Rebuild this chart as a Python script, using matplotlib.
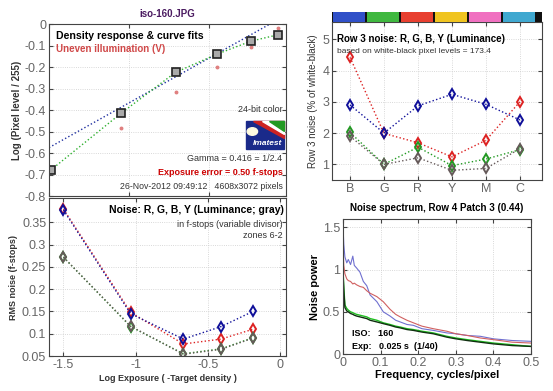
import matplotlib.pyplot as plt
from matplotlib.patches import Rectangle, Circle, Polygon
import numpy as np

plt.rcParams['font.family'] = ['Liberation Sans', 'DejaVu Sans']

# --- density response (top left) ---
dens_x = [-1.49, -1.05, -0.71, -0.45, -0.24, -0.07]
dens_y = [-0.68, -0.415, -0.225, -0.14, -0.08, -0.05]
uneven_x = [-1.05, -0.71, -0.45, -0.24, -0.07]
uneven_y = [-0.485, -0.318, -0.20, -0.105, -0.02]
fit_x = [-1.5, -0.12]
fit_y = [-0.575, 0.0]

# --- noise in f-stops (bottom left) ---
exp_x = [-1.5, -1.035, -0.67, -0.41, -0.19]
noise_r = [0.380, 0.148, 0.077, 0.088, 0.110]
noise_g = [0.272, 0.116, 0.055, 0.066, 0.091]
noise_b = [0.378, 0.145, 0.088, 0.116, 0.150]
noise_y = [0.272, 0.117, 0.054, 0.065, 0.090]

# --- row 3 noise (top right) ---
patches = ['B', 'G', 'R', 'Y', 'M', 'C']
patch_colors = ['#3050c8', '#40b840', '#e84030', '#f0c420', '#f070c0', '#40a8d0']
row3_r = [4.42, 1.99, 1.69, 1.24, 1.77, 3.0]
row3_g = [2.02, 1.0, 1.55, 0.96, 1.17, 1.47]
row3_b = [2.90, 2.0, 2.87, 3.24, 2.92, 2.42]
row3_y = [1.90, 1.0, 1.21, 0.81, 0.87, 1.5]

# --- noise spectrum (bottom right) ---
freq = [0.0, 0.002, 0.005, 0.01, 0.014, 0.02, 0.026, 0.03, 0.036, 0.045, 0.054, 0.063,
        0.072, 0.09, 0.107, 0.125, 0.14, 0.152, 0.17, 0.187, 0.21, 0.24, 0.276, 0.3,
        0.33, 0.365, 0.4, 0.45, 0.5]
spec_b = [1.53, 1.30, 1.15, 1.08, 1.12, 1.06, 1.16, 1.05, 1.02, 0.97, 0.86, 0.81,
          0.70, 0.62, 0.50, 0.45, 0.40, 0.38, 0.35, 0.34, 0.30, 0.28, 0.25, 0.24,
          0.22, 0.21, 0.18, 0.16, 0.15]
spec_r = [1.30, 1.05, 0.95, 0.89, 0.87, 0.86, 0.83, 0.84, 0.82, 0.80, 0.79, 0.75,
          0.72, 0.68, 0.62, 0.53, 0.47, 0.44, 0.40, 0.37, 0.33, 0.30, 0.27, 0.24,
          0.22, 0.19, 0.17, 0.14, 0.13]
spec_g = [1.00, 0.80, 0.58, 0.54, 0.52, 0.50, 0.49, 0.48, 0.47, 0.46, 0.45, 0.44,
          0.42, 0.40, 0.37, 0.35, 0.33, 0.32, 0.30, 0.29, 0.27, 0.25, 0.21, 0.19,
          0.17, 0.15, 0.13, 0.11, 0.09]
spec_k = [0.95, 0.75, 0.55, 0.51, 0.50, 0.48, 0.47, 0.46, 0.45, 0.44, 0.43, 0.42,
          0.40, 0.38, 0.36, 0.34, 0.32, 0.31, 0.29, 0.28, 0.26, 0.24, 0.20, 0.18,
          0.16, 0.14, 0.12, 0.10, 0.09]

RED = '#dd2222'
GRN = '#229922'
BLU = '#10109a'
GRY = '#665a5a'
TICK = '#666666'

fig = plt.figure(figsize=(5.53, 3.91), dpi=100)


def style(ax):
    ax.tick_params(direction='in', labelsize=9, colors='#444444', labelcolor=TICK,
                   length=3, top=True, right=True, pad=2)
    for s in ax.spines.values():
        s.set_color('#444444')
        s.set_linewidth(0.8)
    ax.grid(True, ls=':', color='#cccccc', lw=0.6)


# ---------------- top left ----------------
ax1 = fig.add_axes([0.0886, 0.4987, 0.4286, 0.4399])
style(ax1)
ax1.plot(fit_x, fit_y, ls=':', color='#2030a0', lw=1.0)
ax1.plot(dens_x, dens_y, ls=':', color='#30b030', lw=1.0)
ax1.plot(uneven_x, uneven_y, ls='none', marker='o', ms=1.8, color='#e08080')
ax1.plot(dens_x, dens_y, ls='none', marker='s', ms=5.5, mfc='#aaaaaa', mec='#222222', mew=1.2)
ax1.set_xlim(-1.5, -0.02)
ax1.set_ylim(-0.8, 0)
ax1.set_xticks([-1.5, -1.0, -0.5])
ax1.set_xticklabels([])
ax1.set_yticks(np.arange(-0.8, 0.01, 0.1))
ax1.set_yticklabels(['-0.8', '-0.7', '-0.6', '-0.5', '-0.4', '-0.3', '-0.2', '-0.1', '0'])
ax1.set_ylabel('Log (Pixel level / 255)', fontsize=7, fontweight='bold', color='#333333',
               labelpad=2)
ax1.set_title('iso-160.JPG', fontsize=7, fontweight='bold', color='#4a1a60', pad=5)
ax1.text(0.03, 0.93, 'Density response & curve fits', transform=ax1.transAxes,
         fontsize=7.6, fontweight='bold', va='center')
ax1.text(0.03, 0.855, 'Uneven illumination (V)', transform=ax1.transAxes,
         fontsize=7, fontweight='bold', color='#d04848', va='center')
ax1.text(0.985, 0.505, '24-bit color', transform=ax1.transAxes, fontsize=6.5, ha='right',
         va='center', color='#333333')
ax1.text(0.985, 0.22, 'Gamma = 0.416 = 1/2.4', transform=ax1.transAxes, fontsize=6.5,
         ha='right', va='center', color='#333333')
ax1.text(0.985, 0.138, 'Exposure error = 0.50 f-stops', transform=ax1.transAxes,
         fontsize=6.5, ha='right', va='center', color='#cc0000', fontweight='bold')
ax1.text(0.985, 0.057, '26-Nov-2012 09:49:12   4608x3072 pixels', transform=ax1.transAxes,
         fontsize=6.3, ha='right', va='center', color='#333333')

# imatest logo
lx0, lx1, ly0, ly1 = 0.83, 0.99, 0.275, 0.435
ax1.add_patch(Rectangle((lx0, ly0), lx1 - lx0, ly1 - ly0, transform=ax1.transAxes,
                        color='#1a2a8a', zorder=5))
ax1.add_patch(Polygon([(lx0 + 0.03, ly1), (lx1, ly1), (lx1, ly0 + 0.06)], closed=True,
                      transform=ax1.transAxes, color='#cc2222', zorder=6))
ax1.add_patch(Polygon([(lx0 + 0.07, ly1), (lx1, ly1), (lx1, ly0 + 0.085)], closed=True,
                      transform=ax1.transAxes, color='#ffffff', zorder=6))
ax1.add_patch(Polygon([(lx0 + 0.10, ly1), (lx1, ly1), (lx1, ly0 + 0.105)], closed=True,
                      transform=ax1.transAxes, color='#229922', zorder=6))
ax1.add_patch(Circle((lx0 + 0.028, ly0 + 0.1), 0.022, transform=ax1.transAxes,
                     color='#fffbe0', zorder=7))
ax1.text((lx0 + lx1) / 2 + 0.01, ly0 + 0.012, 'Imatest', transform=ax1.transAxes,
         fontsize=6, color='white', fontweight='bold', style='italic', ha='center',
         va='bottom', zorder=8)

# ---------------- bottom left ----------------
ax2 = fig.add_axes([0.0886, 0.0895, 0.4286, 0.4041])
style(ax2)
for vals, c in [(noise_r, RED), (noise_g, GRN), (noise_b, BLU), (noise_y, GRY)]:
    ax2.plot(exp_x, vals, ls=':', color=c, lw=1.0, marker='d', ms=5, mfc='none',
             mec=c, mew=1.4)
ax2.set_xlim(-1.6, 0.04)
ax2.set_ylim(0.05, 0.405)
ax2.set_xticks([-1.5, -1.0, -0.5, 0])
ax2.set_xticklabels(['-1.5', '-1', '-0.5', '0'])
ax2.set_yticks([0.05, 0.1, 0.15, 0.2, 0.25, 0.3, 0.35])
ax2.set_yticklabels(['0.05', '0.1', '0.15', '0.2', '0.25', '0.3', '0.35'])
ax2.set_xlabel('Log Exposure ( -Target density )', fontsize=6.5, fontweight='bold',
               color='#333333', labelpad=2)
ax2.set_ylabel('RMS noise (f-stops)', fontsize=6.5, fontweight='bold', color='#333333',
               labelpad=3)
ax2.text(0.99, 0.925, 'Noise: R, G, B, Y (Luminance; gray)', transform=ax2.transAxes,
         fontsize=7.5, fontweight='bold', ha='right', va='center')
ax2.text(0.985, 0.83, 'in f-stops (variable divisor)', transform=ax2.transAxes,
         fontsize=6.5, ha='right', va='center', color='#333333')
ax2.text(0.985, 0.76, 'zones 6-2', transform=ax2.transAxes, fontsize=6.5, ha='right',
         va='center', color='#333333')

# ---------------- top right ----------------
xpos = np.arange(1, len(patches) + 1)
ax3 = fig.add_axes([0.6004, 0.5396, 0.3797, 0.4041])
style(ax3)
for vals, c in [(row3_r, RED), (row3_b, BLU), (row3_g, GRN), (row3_y, GRY)]:
    ax3.plot(xpos, vals, ls=':', color=c, lw=1.0, marker='d', ms=5, mfc='none',
             mec=c, mew=1.4)
ax3.set_xlim(0.47, 6.65)
ax3.set_ylim(0.5, 5.55)
ax3.set_xticks(xpos)
ax3.set_xticklabels(patches)
ax3.set_yticks([1, 2, 3, 4, 5])
ax3.set_ylabel('Row 3 noise (% of white-black)', fontsize=7, color='#333333',
               labelpad=3)
ax3.text(0.025, 0.895, 'Row 3 noise: R, G, B, Y (Luminance)', transform=ax3.transAxes,
         fontsize=7, fontweight='bold', va='center')
ax3.text(0.025, 0.815, 'based on white-black pixel levels = 173.4', transform=ax3.transAxes,
         fontsize=6, va='center', color='#333333')

# colour strip above
axc = fig.add_axes([0.6004, 0.9437, 0.3797, 0.0256])
axc.set_facecolor('#111111')
axc.bar(xpos - 0.04, 1, width=0.94, color=patch_colors)
axc.set_xlim(0.47, 6.65)
axc.set_ylim(0, 1)
axc.set_xticks([])
axc.set_yticks([])
for s in axc.spines.values():
    s.set_visible(False)

# ---------------- bottom right ----------------
ax4 = fig.add_axes([0.6203, 0.0946, 0.34, 0.3453])
style(ax4)
ax4.plot(freq, spec_b, color='#7070d0', lw=0.8)
ax4.plot(freq, spec_r, color='#d06060', lw=0.8)
ax4.plot(freq, spec_g, color='#20c020', lw=1.0)
ax4.plot(freq, spec_k, color='#103010', lw=1.0)
ax4.set_xlim(0, 0.5)
ax4.set_ylim(0, 1.6)
ax4.set_xticks([0, 0.1, 0.2, 0.3, 0.4, 0.5])
ax4.set_xticklabels(['0', '0.1', '0.2', '0.3', '0.4', '0.5'])
ax4.set_yticks([0, 0.5, 1, 1.5])
ax4.set_yticklabels(['0', '0.5', '1', '1.5'])
ax4.set_title('Noise spectrum, Row 4 Patch 3 (0.44)', fontsize=7, fontweight='bold',
              pad=6)
ax4.set_xlabel('Frequency, cycles/pixel', fontsize=8, fontweight='bold', labelpad=1)
ax4.set_ylabel('Noise power', fontsize=8, fontweight='bold', labelpad=2)
ax4.text(0.05, 0.155, 'ISO:   160', transform=ax4.transAxes, fontsize=6.5,
         fontweight='bold', va='center')
ax4.text(0.05, 0.055, 'Exp:   0.025 s  (1/40)', transform=ax4.transAxes, fontsize=6.5,
         fontweight='bold', va='center')

fig.savefig('out.png', dpi=100)
